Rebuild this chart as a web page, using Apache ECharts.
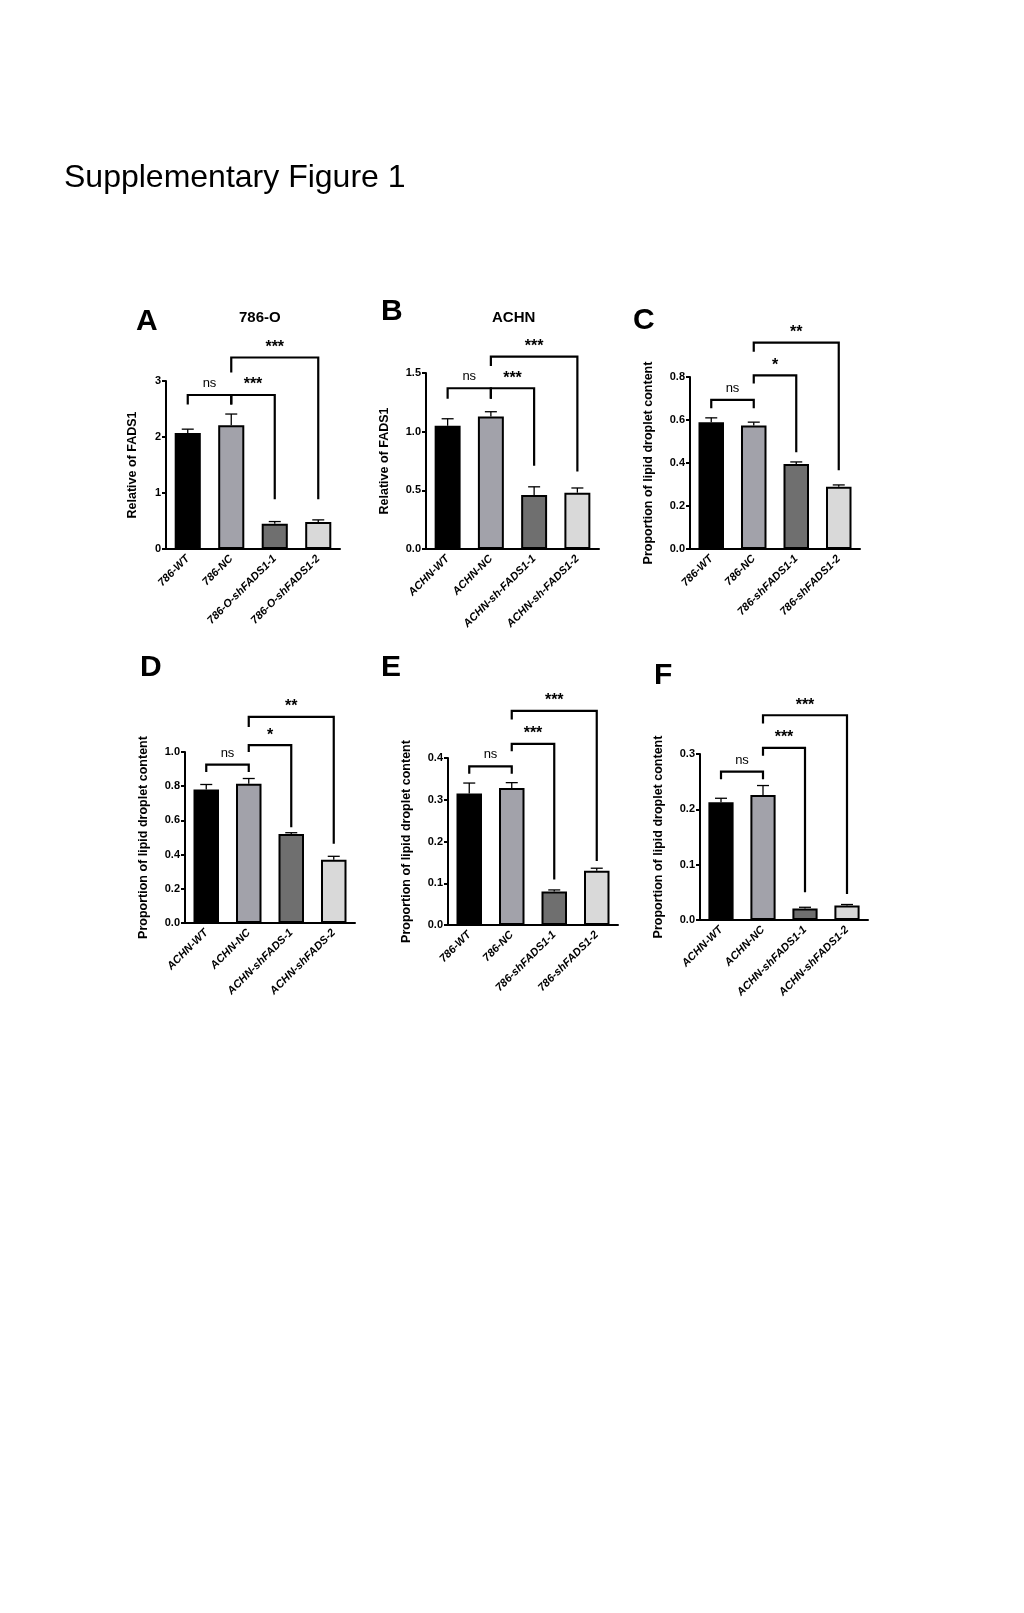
<!DOCTYPE html>
<html><head><meta charset="utf-8">
<script src="https://cdn.jsdelivr.net/npm/echarts@6/dist/echarts.min.js"></script>
<style>html,body{margin:0;padding:0;background:#fff}#c{width:1024px;height:1613px}</style>
</head><body><div id="c"></div>
<script>
// ---- data ----
const catA = ['786-WT','786-NC','786-O-shFADS1-1','786-O-shFADS1-2'];
const meanA = [2.07, 2.21, 0.45, 0.48];
const sdA = [0.07, 0.2, 0.04, 0.04];
const brA = [[0,1,2.75,2.58,2.58,'ns'],[1,2,2.75,2.58,0.89,'***'],[1,3,3.42,3.15,0.89,'***']];

const catB = ['ACHN-WT','ACHN-NC','ACHN-sh-FADS1-1','ACHN-sh-FADS1-2'];
const meanB = [1.05, 1.13, 0.46, 0.48];
const sdB = [0.06, 0.04, 0.07, 0.04];
const brB = [[0,1,1.37,1.28,1.28,'ns'],[1,2,1.37,1.28,0.71,'***'],[1,3,1.64,1.56,0.66,'***']];

const catC = ['786-WT','786-NC','786-shFADS1-1','786-shFADS1-2'];
const meanC = [0.59, 0.575, 0.395, 0.29];
const sdC = [0.02, 0.015, 0.01, 0.008];
const brC = [[0,1,0.694,0.655,0.655,'ns'],[1,2,0.808,0.77,0.45,'*'],[1,3,0.96,0.917,0.366,'**']];

const catD = ['ACHN-WT','ACHN-NC','ACHN-shFADS-1','ACHN-shFADS-2'];
const meanD = [0.78, 0.815, 0.52, 0.37];
const sdD = [0.03, 0.03, 0.008, 0.02];
const brD = [[0,1,0.926,0.883,0.883,'ns'],[1,2,1.04,1.0,0.56,'*'],[1,3,1.205,1.146,0.463,'**']];

const catE = ['786-WT','786-NC','786-shFADS1-1','786-shFADS1-2'];
const meanE = [0.315, 0.328, 0.08, 0.13];
const sdE = [0.025, 0.013, 0.004, 0.006];
const brE = [[0,1,0.38,0.362,0.362,'ns'],[1,2,0.434,0.416,0.109,'***'],[1,3,0.513,0.492,0.153,'***']];

const catF = ['ACHN-WT','ACHN-NC','ACHN-shFADS1-1','ACHN-shFADS1-2'];
const meanF = [0.213, 0.226, 0.021, 0.026];
const sdF = [0.007, 0.017, 0.002, 0.002];
const brF = [[0,1,0.268,0.2545,0.2545,'ns'],[1,2,0.311,0.297,0.05,'***'],[1,3,0.37,0.355,0.047,'***']];

const barColors = ['#000000','#a2a2aa','#6f6f6f','#d9d9d9'];
const S = 1.03;
const G = (l,t,w,h)=>({left:Math.round(l*S),top:Math.round(t*S),width:Math.round(w*S),height:Math.round(h*S)});

const panels = [
 {cat:catA,mean:meanA,sd:sdA,br:brA,max:3,int:1,dec:0,name:'Relative of FADS1',g:G(161,370,169,163)},
 {cat:catB,mean:meanB,sd:sdB,br:brB,max:1.5,int:0.5,dec:1,name:'Relative of FADS1',g:G(414,362,168,171)},
 {cat:catC,mean:meanC,sd:sdC,br:brC,max:0.8,int:0.2,dec:1,name:'Proportion of lipid droplet content',g:G(670,366,165,167)},
 {cat:catD,mean:meanD,sd:sdD,br:brD,max:1.0,int:0.2,dec:1,name:'Proportion of lipid droplet content',g:G(180,730,165,166)},
 {cat:catE,mean:meanE,sd:sdE,br:brE,max:0.4,int:0.1,dec:1,name:'Proportion of lipid droplet content',g:G(435,736,165,162)},
 {cat:catF,mean:meanF,sd:sdF,br:brF,max:0.3,int:0.1,dec:1,name:'Proportion of lipid droplet content',g:G(680,732,163,161)}
];

const grid=[], xAxis=[], yAxis=[], series=[];
panels.forEach((p,k)=>{
  grid.push(p.g);
  xAxis.push({type:'category',gridIndex:k,data:p.cat,
    axisLine:{lineStyle:{color:'#000',width:2}},
    axisTick:{alignWithLabel:true,length:5,lineStyle:{color:'#000',width:2}},
    axisLabel:{rotate:45,color:'#000',fontSize:11,fontWeight:'bold',fontStyle:'italic',fontFamily:'Liberation Sans',margin:8,interval:0}});
  yAxis.push({type:'value',gridIndex:k,min:0,max:p.max,interval:p.int,
    name:p.name,nameLocation:'middle',nameGap:p.dec?35:27,nameRotate:90,
    nameTextStyle:{color:'#000',fontSize:12.5,fontWeight:'bold',fontFamily:'Liberation Sans'},
    splitLine:{show:false},
    axisLine:{show:true,lineStyle:{color:'#000',width:2}},
    axisTick:{show:true,length:4,lineStyle:{color:'#000',width:2}},
    axisLabel:{color:'#000',fontSize:11,fontWeight:'bold',fontFamily:'Liberation Sans',margin:5,formatter:v=>v.toFixed(p.dec)}});
  series.push({type:'bar',xAxisIndex:k,yAxisIndex:k,barWidth:'60%',
    data:p.mean.map((v,i)=>({value:v,itemStyle:{color:barColors[i],borderColor:'#000',borderWidth:2}}))});
  series.push({type:'custom',xAxisIndex:k,yAxisIndex:k,clip:false,z:5,
    data:p.mean.map((v,i)=>[i,v,p.sd[i]]),
    renderItem:(params,api)=>{
      const i=api.value(0),m=api.value(1),s=api.value(2);
      const a=api.coord([i,m]),b=api.coord([i,m+s]);
      const st={stroke:'#000',lineWidth:1.3};
      return {type:'group',children:[
        {type:'line',shape:{x1:a[0],y1:a[1],x2:b[0],y2:b[1]},style:st},
        {type:'line',shape:{x1:b[0]-6,y1:b[1],x2:b[0]+6,y2:b[1]},style:st}]};
    }});
  series.push({type:'custom',xAxisIndex:k,yAxisIndex:k,clip:false,z:6,
    data:p.br,
    renderItem:(params,api)=>{
      const b=p.br[params.dataIndex];
      const L=api.coord([b[0],b[2]]),R=api.coord([b[1],b[2]]);
      const l2=api.coord([b[0],b[3]]),r2=api.coord([b[1],b[4]]);
      const st={stroke:'#000',lineWidth:2.2,fill:null};
      const ns=b[5]==='ns';
      return {type:'group',children:[
        {type:'polyline',shape:{points:[[l2[0],l2[1]],[L[0],L[1]],[R[0],R[1]],[r2[0],r2[1]]]},style:st},
        {type:'text',style:{x:(L[0]+R[0])/2,y:L[1]-(ns?5:2),text:b[5],textAlign:'center',textVerticalAlign:'bottom',
          fill:'#000',fontSize:ns?13:16,fontWeight:ns?'normal':'bold',fontFamily:'Liberation Sans'}}]};
    }});
});

const letters=[['A',132,312],['B',370,302],['C',615,311],['D',136,648],['E',370,648],['F',635,656]];
const graphic=[{type:'text',left:Math.round(62*S),top:Math.round(157*S),style:{text:'Supplementary Figure 1',fontSize:32,fill:'#000',fontFamily:'Liberation Sans'}}];
letters.forEach(l=>graphic.push({type:'text',left:Math.round(l[1]*S),top:Math.round((l[2]-14)*S),style:{text:l[0],fontSize:30,fontWeight:'bold',fill:'#000',fontFamily:'Liberation Sans'}}));
graphic.push({type:'text',left:Math.round(232*S),top:Math.round(301*S),style:{text:'786-O',fontSize:15,fontWeight:'bold',fill:'#000',fontFamily:'Liberation Sans'}});
graphic.push({type:'text',left:Math.round(478*S),top:Math.round(301*S),style:{text:'ACHN',fontSize:15,fontWeight:'bold',fill:'#000',fontFamily:'Liberation Sans'}});

const chart=echarts.init(document.getElementById('c'));
chart.setOption({animation:false,backgroundColor:'#fff',grid,xAxis,yAxis,series,graphic});
</script></body></html>
